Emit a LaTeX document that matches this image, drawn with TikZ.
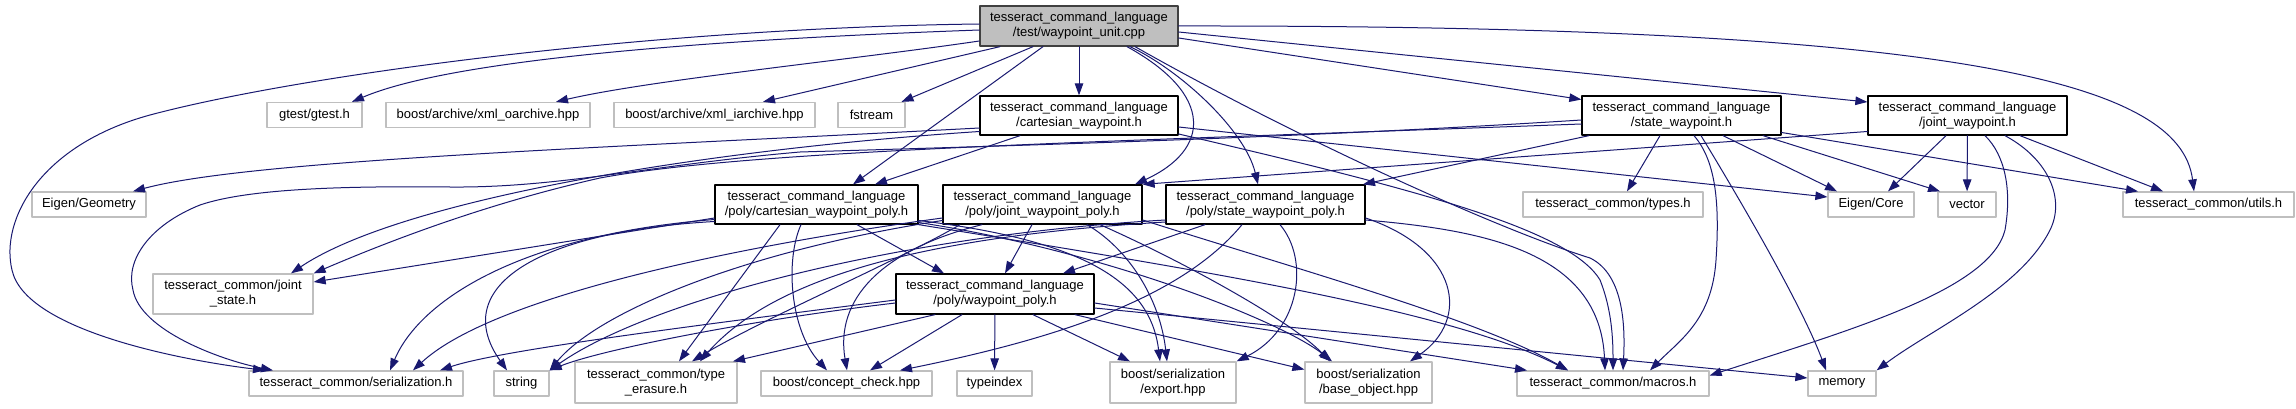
\documentclass[tikz,border=0pt]{standalone}
\usepackage{fontspec}
\setmainfont{Liberation Sans}
\usetikzlibrary{arrows.meta}
\definecolor{depblue}{HTML}{191970}
\definecolor{grey75}{HTML}{BFBFBF}

\begin{document}
\begin{tikzpicture}[
  x=1pt,
  y=-1pt,
  line cap=round,
  line join=round,
  every node/.style={font=\fontsize{13}{15}\selectfont, inner sep=0, align=center},
  mainfile/.style={draw=black!75, line width=1.3, fill=grey75, minimum width=198, minimum height=40},
  docfile/.style={draw=black, line width=1.3, fill=white, minimum height=39},
  extfile/.style={draw=grey75, line width=1.3, fill=white, minimum height=25},
  dep/.style={draw=depblue, line width=1.0, -{Triangle[length=12pt,width=8.5pt]}}
]
\path[use as bounding box] (0,0) rectangle (2296,409);
\fill[white] (0,0) rectangle (2296,409);

% Files
\node[mainfile] (main) at (1079,26) {tesseract\_command\_language\\/test/waypoint\_unit.cpp};

\node[extfile, minimum width=95] (gtest) at (314.5,115) {gtest/gtest.h};
\node[extfile, minimum width=204] (oarch) at (488,115) {boost/archive/xml\_oarchive.hpp};
\node[extfile, minimum width=201] (iarch) at (714.5,115) {boost/archive/xml\_iarchive.hpp};
\node[extfile, minimum width=67] (fstream) at (871.5,115) {fstream};
\node[docfile, minimum width=198] (cwp) at (1079,115.5) {tesseract\_command\_language\\/cartesian\_waypoint.h};
\node[docfile, minimum width=199] (swp) at (1681.5,115.5) {tesseract\_command\_language\\/state\_waypoint.h};
\node[docfile, minimum width=199] (jwp) at (1967.5,115.5) {tesseract\_command\_language\\/joint\_waypoint.h};

\node[extfile, minimum width=114] (egeo) at (89,204.5) {Eigen/Geometry};
\node[docfile, minimum width=203] (cwpp) at (816.5,204.5) {tesseract\_command\_language\\/poly/cartesian\_waypoint\_poly.h};
\node[docfile, minimum width=199] (jwpp) at (1042.5,204.5) {tesseract\_command\_language\\/poly/joint\_waypoint\_poly.h};
\node[docfile, minimum width=199] (swpp) at (1265.5,204.5) {tesseract\_command\_language\\/poly/state\_waypoint\_poly.h};
\node[extfile, minimum width=180] (types) at (1613,204.5) {tesseract\_common/types.h};
\node[extfile, minimum width=86] (ecore) at (1871,204.5) {Eigen/Core};
\node[extfile, minimum width=58] (vector) at (1967,204.5) {vector};
\node[extfile, minimum width=171] (utils) at (2208.5,204.5) {tesseract\_common/utils.h};

\node[extfile, minimum width=160, minimum height=40] (jstate) at (233,294) {tesseract\_common/joint\\\_state.h};
\node[docfile, minimum width=198, minimum height=40] (wpp) at (995,294) {tesseract\_command\_language\\/poly/waypoint\_poly.h};

\node[extfile, minimum width=214] (ser) at (356,383.5) {tesseract\_common/serialization.h};
\node[extfile, minimum width=55] (string) at (521.5,383.5) {string};
\node[extfile, minimum width=162, minimum height=41] (terasure) at (656,382.5) {tesseract\_common/type\\\_erasure.h};
\node[extfile, minimum width=171] (concept) at (846.5,383.5) {boost/concept\_check.hpp};
\node[extfile, minimum width=75] (typeindex) at (994.5,383.5) {typeindex};
\node[extfile, minimum width=126, minimum height=41] (export) at (1173,382.5) {boost/serialization\\/export.hpp};
\node[extfile, minimum width=127, minimum height=41] (baseobj) at (1368.5,382.5) {boost/serialization\\/base\_object.hpp};
\node[extfile, minimum width=192] (macros) at (1613,383.5) {tesseract\_common/macros.h};
\node[extfile, minimum width=68] (memory) at (1842,383.5) {memory};

% Includes of the test file
\draw[dep] ([yshift=2pt]main.west) .. controls (650,28) and (300,75) .. (150,115)
  .. controls (40,145) and (0,220) .. (12,270) .. controls (25,330) and (180,360) .. ([xshift=-91pt]ser.north);
\draw[dep] ([yshift=-4pt]main.west) .. controls (700,40) and (450,60) .. ([xshift=37.5pt]gtest.north);
\draw[dep] ([yshift=-15pt]main.west) .. controls (850,60) and (650,80) .. ([xshift=68pt]oarch.north);
\draw[dep] ([xshift=-79pt]main.south) -- ([xshift=48.5pt]iarch.north);
\draw[dep] ([xshift=-46pt]main.south) -- ([xshift=30pt]fstream.north);
\draw[dep] ([xshift=-36pt]main.south) -- ([xshift=36.5pt]cwpp.north);
\draw[dep] (main) -- (cwp);
\draw[dep] ([xshift=48pt]main.south) .. controls (1215,95) and (1210,150) .. ([xshift=92.5pt]jwpp.north);
\draw[dep] ([xshift=51pt]main.south) .. controls (1180,70) and (1245,130) .. ([xshift=-7.5pt]swpp.north);
\draw[dep] ([xshift=56pt]main.south) .. controls (1300,140) and (1500,230) .. (1590,258)
  .. controls (1625,275) and (1625,330) .. ([xshift=10pt]macros.north);
\draw[dep] ([yshift=-12pt]main.east) -- ([yshift=16pt]swp.west);
\draw[dep] ([yshift=-6pt]main.east) -- ([yshift=13.5pt]jwp.west);
\draw[dep] (main.east) .. controls (1950,25) and (2180,80) .. ([xshift=-14.5pt]utils.north);

% cartesian_waypoint.h
\draw[dep] ([yshift=-12.5pt]cwp.west) .. controls (600,148) and (250,160) .. ([xshift=44pt]egeo.north);
\draw[dep] ([yshift=-16pt]cwp.west) .. controls (700,150) and (400,200) .. ([xshift=58pt]jstate.north);
\draw[dep] ([xshift=-59pt]cwp.south) -- ([xshift=58.5pt]cwpp.north);
\draw[dep] ([yshift=-11.5pt]cwp.east) -- ([yshift=7.5pt]ecore.west);
\draw[dep] ([yshift=-18.5pt]cwp.east) .. controls (1420,190) and (1570,230) .. (1600,280)
  .. controls (1612,310) and (1613,340) .. (macros.north);

% state_waypoint.h
\draw[dep] ([yshift=-4.5pt]swp.west) .. controls (1300,138) and (1000,146) .. (800,152)
  .. controls (650,165) and (560,188) .. (450,187) .. controls (350,186) and (250,188) .. (200,205)
  .. controls (150,225) and (125,260) .. (133,290) .. controls (140,330) and (220,360) .. ([xshift=-83pt]ser.north);
\draw[dep] ([yshift=-8.5pt]swp.west) .. controls (1100,142) and (750,150) .. (600,178)
  .. controls (480,205) and (380,245) .. (jstate.north east);
\draw[dep] ([xshift=-92.5pt]swp.south) -- ([xshift=97.5pt]swpp.north);
\draw[dep] ([xshift=-21.5pt]swp.south) -- ([xshift=14pt]types.north);
\draw[dep] ([xshift=41.5pt]swp.south) -- ([xshift=-34pt]ecore.north);
\draw[dep] ([xshift=81.5pt]swp.south) -- ([xshift=-27pt]vector.north);
\draw[dep] ([yshift=-17pt]swp.east) -- ([xshift=-70.5pt]utils.north);
\draw[dep] ([xshift=12.5pt]swp.south) .. controls (1715,160) and (1720,200) .. (1716,260)
  .. controls (1712,320) and (1680,340) .. ([xshift=37pt]macros.north);
\draw[dep] ([xshift=19.5pt]swp.south) .. controls (1725,175) and (1800,300) .. ([xshift=-16pt]memory.north);

% joint_waypoint.h
\draw[dep] ([yshift=-16pt]jwp.west) -- (jwpp.north east);
\draw[dep] ([xshift=-21.5pt]jwp.south) -- ([xshift=17pt]ecore.north);
\draw[dep] (jwp) -- (vector);
\draw[dep] ([xshift=17.5pt]jwp.south) .. controls (2005,155) and (2012,190) .. (2005,230)
  .. controls (1990,290) and (1850,330) .. ([yshift=8pt]macros.east);
\draw[dep] ([xshift=37.5pt]jwp.south) .. controls (2050,160) and (2065,200) .. (2050,230)
  .. controls (2020,290) and (1930,330) .. (memory.north east);
\draw[dep] ([xshift=52.5pt]jwp.south) -- ([xshift=-45.5pt]utils.north);

% cartesian_waypoint_poly.h
\draw[dep] ([yshift=-13.5pt]cwpp.west) -- ([yshift=12pt]jstate.east);
\draw[dep] ([yshift=-15pt]cwpp.west) .. controls (520,235) and (420,300) .. ([xshift=34pt]ser.north);
\draw[dep] ([yshift=-17pt]cwpp.west) .. controls (530,232) and (450,290) .. ([xshift=-14.5pt]string.north);
\draw[dep] ([xshift=-36.5pt]cwpp.south) -- ([xshift=23pt]terasure.north);
\draw[dep] ([xshift=-15.5pt]cwpp.south) .. controls (785,260) and (790,330) .. ([xshift=-19.5pt]concept.north);
\draw[dep] ([xshift=40.5pt]cwpp.south) -- ([xshift=-51pt]wpp.north);
\draw[dep] ([yshift=-16pt]cwpp.east) .. controls (1080,240) and (1150,280) .. ([xshift=-13pt]export.north);
\draw[dep] ([yshift=-18pt]cwpp.east) .. controls (1100,250) and (1280,320) .. ([xshift=-36.5pt]baseobj.north);
\draw[dep] (cwpp.south east) .. controls (1200,270) and (1450,310) .. ([xshift=-45pt]macros.north);

% joint_waypoint_poly.h
\draw[dep] ([yshift=-13.5pt]jwpp.west) .. controls (780,240) and (500,290) .. ([xshift=57pt]ser.north);
\draw[dep] ([yshift=-16pt]jwpp.west) .. controls (750,250) and (600,310) .. (string.north east);
\draw[dep] ([xshift=-82.5pt]jwpp.south) .. controls (900,260) and (760,320) .. ([xshift=36pt]terasure.north);
\draw[dep] ([xshift=-60.5pt]jwpp.south) .. controls (880,250) and (835,300) .. ([xshift=0.5pt]concept.north);
\draw[dep] ([xshift=-10.5pt]jwpp.south) -- ([xshift=10pt]wpp.north);
\draw[dep] ([xshift=44.5pt]jwpp.south) .. controls (1130,250) and (1160,300) .. ([xshift=-6pt]export.north);
\draw[dep] ([xshift=57.5pt]jwpp.south) .. controls (1180,260) and (1290,320) .. ([xshift=-38.5pt]baseobj.north);
\draw[dep] ([yshift=-15.5pt]jwpp.east) .. controls (1300,270) and (1480,320) .. ([xshift=-45pt]macros.north);

% state_waypoint_poly.h
\draw[dep] ([yshift=-15.5pt]swpp.west) .. controls (900,235) and (650,300) .. (string.north east);
\draw[dep] ([yshift=-17.5pt]swpp.west) .. controls (950,235) and (780,270) .. ([xshift=44pt]terasure.north);
\draw[dep] ([xshift=-23.5pt]swpp.south) .. controls (1180,300) and (1050,340) .. ([xshift=53.5pt]concept.north);
\draw[dep] ([xshift=-60.5pt]swpp.south) -- ([xshift=68pt]wpp.north);
\draw[dep] ([xshift=14.5pt]swpp.south) .. controls (1310,260) and (1300,330) .. (export.north east);
\draw[dep] ([yshift=-13.5pt]swpp.east) .. controls (1460,250) and (1470,320) .. ([xshift=41.5pt]baseobj.north);
\draw[dep] ([yshift=-15.5pt]swpp.east) .. controls (1480,230) and (1600,250) .. ([xshift=-8pt]macros.north);

% waypoint_poly.h
\draw[dep] ([yshift=-6pt]wpp.west) .. controls (700,325) and (500,350) .. ([xshift=84pt]ser.north);
\draw[dep] ([yshift=-9pt]wpp.west) .. controls (750,320) and (600,350) .. (string.north east);
\draw[dep] ([xshift=-60pt]wpp.south) -- ([xshift=77pt]terasure.north);
\draw[dep] ([xshift=-33pt]wpp.south) -- ([xshift=23.5pt]concept.north);
\draw[dep] (wpp) -- (typeindex);
\draw[dep] ([xshift=38pt]wpp.south) -- ([xshift=-43pt]export.north);
\draw[dep] ([xshift=80pt]wpp.south) -- ([yshift=13pt]baseobj.west);
\draw[dep] ([yshift=-9pt]wpp.east) -- ([xshift=-86pt]macros.north);
\draw[dep] ([yshift=-14pt]wpp.east) -- ([yshift=5.5pt]memory.west);

\end{tikzpicture}
\end{document}
